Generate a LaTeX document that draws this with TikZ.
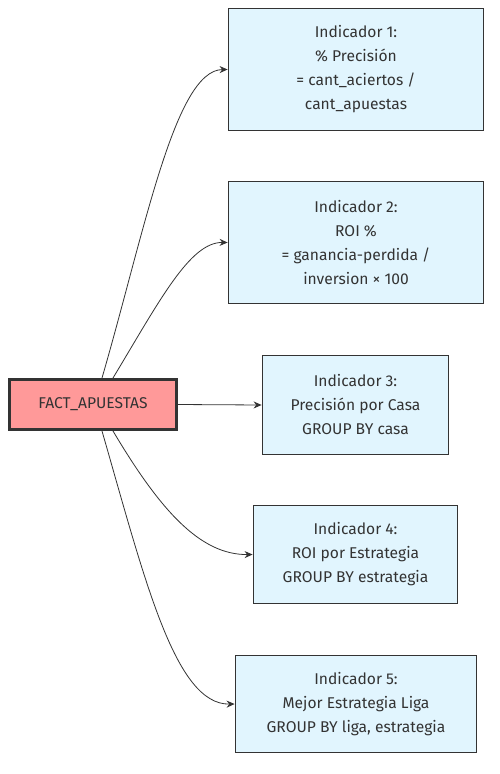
\documentclass[tikz,border=0pt]{standalone}
\usepackage{fontspec}
\setmainfont{Fira Sans}
\usepackage{xcolor}
\usepackage{tikz}
\usetikzlibrary{arrows.meta}

\definecolor{factfill}{HTML}{FF9999}
\definecolor{indfill}{HTML}{E1F5FE}
\definecolor{inkgray}{HTML}{333333}

\tikzset{
  fact/.style={draw=inkgray, line width=2.6pt, fill=factfill, text=inkgray,
    minimum width=167pt, minimum height=50pt, inner sep=0pt},
  indic/.style={draw=inkgray, line width=1.8pt, fill=indfill, text=inkgray,
    align=center, inner sep=0pt},
  link/.style={draw=inkgray, line width=0.8pt, -{Stealth[length=8pt,width=7pt]}}
}

\begin{document}
\begin{tikzpicture}[x=1pt,y=-1pt,font=\fontsize{15.6}{24}\selectfont]
\useasboundingbox (0,0) rectangle (500,774);

\node [fact] (fact) at (93,404.5) {FACT\_APUESTAS};

\node [indic, minimum width=255pt, minimum height=122pt] (ind1) at (356,69.5)
  {Indicador 1:\\\% Precisión\\= cant\_aciertos /\\cant\_apuestas};
\node [indic, minimum width=255pt, minimum height=122pt] (ind2) at (356,242.5)
  {Indicador 2:\\ROI \%\\= ganancia-perdida /\\inversion × 100};
\node [indic, minimum width=186pt, minimum height=99pt] (ind3) at (355.5,405)
  {Indicador 3:\\Precisión por Casa\\GROUP BY casa};
\node [indic, minimum width=204pt, minimum height=98pt] (ind4) at (355.5,554.5)
  {Indicador 4:\\ROI por Estrategia\\GROUP BY estrategia};
\node [indic, minimum width=241pt, minimum height=97pt] (ind5) at (356,704)
  {Indicador 5:\\Mejor Estrategia Liga\\GROUP BY liga, estrategia};

\coordinate (f1) at (102,378);
\coordinate (f2) at (113,378);
\coordinate (f4) at (113,431);
\coordinate (f5) at (102,431);

\draw [link] (f1) .. controls (145,230) and (175,70) .. (ind1.west);
\draw [link] (f2) .. controls (160,300) and (190,242) .. (ind2.west);
\draw [link] (fact.east) -- (ind3.west);
\draw [link] (f4) .. controls (160,510) and (200,555) .. (ind4.west);
\draw [link] (f5) .. controls (145,580) and (175,705) .. (ind5.west);
\end{tikzpicture}
\end{document}
